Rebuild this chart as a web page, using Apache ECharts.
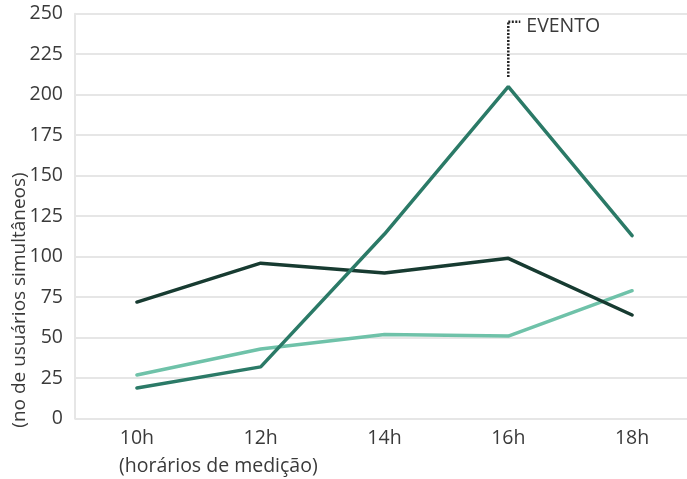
<!DOCTYPE html>
<html><head><meta charset="utf-8">
<script src="https://cdn.jsdelivr.net/npm/echarts@6/dist/echarts.min.js"></script>
<style>html,body{margin:0;padding:0;background:#fff}#c{width:687px;height:479px}</style>
</head><body><div id="c"></div>
<script>
const categories = ['10h','12h','14h','16h','18h'];
const serieEscura = [72, 96, 90, 99, 64];
const serieMedia = [19, 32, 114, 205, 113];
const serieClara = [27, 43, 52, 51, 79];
const yTicks = [0,25,50,75,100,125,150,175,200,225,250];
const eventCategory = '16h';
const eventRange = [211, 245];
const eventLabel = 'EVENTO';
const xName = '(horários de medição)';
const yName = '(no de usuários simultâneos)';

const FONT = '"Open Sans"';
const TXT = '#3a3a3a';
const chart = echarts.init(document.getElementById('c'), null, {renderer:'canvas'});
const mkSeries = (data, color, z) => ({
  type:'line', data, symbol:'none', z,
  lineStyle:{color, width:3.5, cap:'round'}, itemStyle:{color}
});
chart.setOption({
  animation:false,
  grid:{left:75, top:13.7, width:619, height:405, outerBoundsMode:'none', containLabel:false},
  xAxis:{type:'category', data:categories, boundaryGap:true,
    axisLine:{show:false}, axisTick:{show:false},
    axisLabel:{color:TXT, fontSize:19.5, fontFamily:FONT, margin:10}},
  yAxis:{type:'value', min:yTicks[0], max:yTicks[yTicks.length-1], interval:25,
    axisLine:{show:true, lineStyle:{color:'#e6e6e6', width:2}}, axisTick:{show:false},
    splitLine:{lineStyle:{color:'#e6e6e6', width:2}},
    axisLabel:{color:TXT, fontSize:19.5, fontFamily:FONT, margin:12}},
  series:[
    mkSeries(serieEscura, '#173b31', 3),
    mkSeries(serieMedia, '#2b7a67', 4),
    mkSeries(serieClara, '#6fc2a9', 2)
  ]
});
const p0 = chart.convertToPixel({xAxisIndex:0, yAxisIndex:0}, [eventCategory, eventRange[0]]);
const p1 = chart.convertToPixel({xAxisIndex:0, yAxisIndex:0}, [eventCategory, eventRange[1]]);
const dot = {stroke:'#222', lineWidth:2.5, lineDash:[2,1.5]};
chart.setOption({graphic:[
  {type:'line', shape:{x1:p0[0], y1:p0[1], x2:p1[0], y2:p1[1]}, style:dot, z:10},
  {type:'line', shape:{x1:p1[0], y1:p1[1], x2:p1[0]+12, y2:p1[1]}, style:dot, z:10},
  {type:'text', x:p1[0]+18, y:p1[1]+5, style:{text:eventLabel, fill:TXT, font:'19.5px '+FONT, textAlign:'left', textVerticalAlign:'middle'}},
  {type:'text', x:119, y:466, style:{text:xName, fill:TXT, font:'19.5px '+FONT, textAlign:'left', textVerticalAlign:'middle'}},
  {type:'text', x:20, y:300, rotation:Math.PI/2, style:{text:yName, fill:TXT, font:'19px '+FONT, textAlign:'center', textVerticalAlign:'middle'}}
]});
</script></body></html>
